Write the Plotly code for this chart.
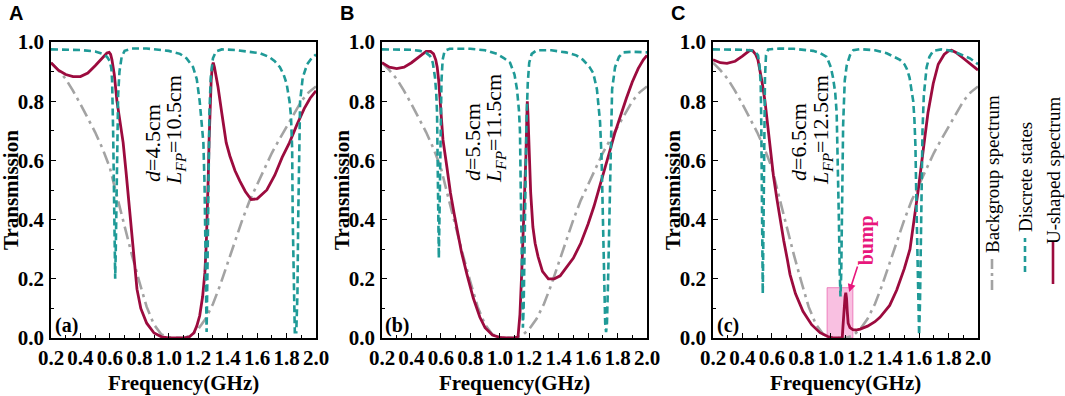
import plotly.graph_objects as go

# ---------------- data ----------------
freq_range = [0.2, 2.0]
trans_range = [0.0, 1.0]

# Background spectrum (same structure in all three panels)
bg_freq = [0.2, 0.25, 0.3, 0.35, 0.4, 0.45, 0.5, 0.55, 0.6, 0.65, 0.7, 0.75, 0.8, 0.85, 0.9, 0.95,
           1.0, 1.05, 1.1, 1.15, 1.2, 1.25, 1.3, 1.35, 1.4, 1.45, 1.5, 1.55, 1.6, 1.65, 1.7, 1.75,
           1.8, 1.85, 1.9, 1.95, 2.0]
bg_trans = [0.93, 0.905, 0.875, 0.835, 0.79, 0.745, 0.695, 0.64, 0.575, 0.475, 0.375, 0.28, 0.19,
            0.105, 0.045, 0.012, 0.002, 0.0, 0.0, 0.008, 0.03, 0.065, 0.115, 0.18, 0.255, 0.33,
            0.40, 0.465, 0.52, 0.575, 0.625, 0.67, 0.715, 0.76, 0.80, 0.83, 0.85]

# Panel A: discrete states
disc_a = [(0.2, 0.975), (0.3, 0.975), (0.4, 0.973), (0.5, 0.968), (0.55, 0.96), (0.58, 0.95),
          (0.6, 0.935), (0.61, 0.91), (0.615, 0.87), (0.622, 0.7), (0.627, 0.48), (0.632, 0.3),
          (0.636, 0.2), (0.64, 0.3), (0.645, 0.48), (0.65, 0.68), (0.656, 0.82), (0.665, 0.9),
          (0.68, 0.95), (0.7, 0.97), (0.75, 0.978), (0.85, 0.978), (0.95, 0.973), (1.0, 0.97),
          (1.076, 0.96), (1.12, 0.945), (1.165, 0.915), (1.19, 0.875), (1.21, 0.80), (1.225, 0.73),
          (1.235, 0.66), (1.243, 0.52), (1.248, 0.38), (1.252, 0.2), (1.257, 0.02), (1.262, 0.2),
          (1.266, 0.4), (1.27, 0.6), (1.276, 0.76), (1.285, 0.88), (1.3, 0.945), (1.32, 0.968),
          (1.36, 0.975), (1.45, 0.973), (1.55, 0.968), (1.62, 0.962), (1.68, 0.95), (1.72, 0.935),
          (1.755, 0.915), (1.78, 0.89), (1.8, 0.86), (1.82, 0.80), (1.83, 0.75), (1.838, 0.64),
          (1.842, 0.4), (1.848, 0.15), (1.856, 0.02), (1.866, 0.02), (1.874, 0.15), (1.879, 0.4),
          (1.884, 0.65), (1.892, 0.8), (1.91, 0.88), (1.94, 0.925), (1.97, 0.945), (2.0, 0.958)]

# Panel A: U-shaped spectrum
ushape_a = [(0.2, 0.93), (0.25, 0.905), (0.3, 0.89), (0.35, 0.883), (0.4, 0.883), (0.45, 0.895),
            (0.5, 0.92), (0.55, 0.948), (0.58, 0.963), (0.595, 0.965), (0.605, 0.958), (0.614, 0.94),
            (0.63, 0.89), (0.648, 0.80), (0.67, 0.73), (0.69, 0.66), (0.71, 0.56), (0.723, 0.49),
            (0.737, 0.40), (0.76, 0.27), (0.784, 0.165), (0.81, 0.10), (0.85, 0.05), (0.9, 0.017),
            (0.95, 0.004), (1.0, 0.0), (1.05, 0.0), (1.1, 0.0), (1.14, 0.004), (1.17, 0.017),
            (1.19, 0.04), (1.21, 0.075), (1.23, 0.14), (1.245, 0.22), (1.255, 0.32), (1.262, 0.42),
            (1.268, 0.54), (1.274, 0.67), (1.28, 0.78), (1.288, 0.87), (1.296, 0.92), (1.302, 0.93),
            (1.31, 0.915), (1.32, 0.89), (1.334, 0.85), (1.36, 0.76), (1.39, 0.66), (1.415, 0.615),
            (1.45, 0.565), (1.483, 0.53), (1.52, 0.495), (1.56, 0.468), (1.6, 0.47), (1.666, 0.50),
            (1.72, 0.55), (1.77, 0.61), (1.82, 0.66), (1.87, 0.72), (1.92, 0.775), (1.96, 0.81),
            (2.0, 0.835)]

# Panel B: discrete states
disc_b = [(0.2, 0.975), (0.3, 0.975), (0.4, 0.974), (0.458, 0.97), (0.5, 0.963), (0.526, 0.953),
          (0.545, 0.93), (0.56, 0.88), (0.568, 0.83), (0.574, 0.76), (0.578, 0.6), (0.582, 0.42),
          (0.586, 0.27), (0.59, 0.4), (0.594, 0.58), (0.598, 0.75), (0.604, 0.87), (0.612, 0.94),
          (0.625, 0.97), (0.66, 0.977), (0.8, 0.977), (0.9, 0.972), (0.98, 0.96), (1.03, 0.945),
          (1.07, 0.93), (1.1, 0.89), (1.117, 0.84), (1.13, 0.77), (1.137, 0.7), (1.142, 0.52),
          (1.147, 0.3), (1.152, 0.1), (1.157, 0.035), (1.162, 0.1), (1.168, 0.3), (1.174, 0.52),
          (1.181, 0.72), (1.19, 0.86), (1.2, 0.93), (1.217, 0.96), (1.25, 0.972), (1.35, 0.972),
          (1.45, 0.965), (1.52, 0.955), (1.565, 0.94), (1.61, 0.915), (1.635, 0.895), (1.66, 0.84),
          (1.681, 0.73), (1.692, 0.6), (1.7, 0.4), (1.708, 0.2), (1.716, 0.05), (1.722, 0.02),
          (1.728, 0.05), (1.736, 0.2), (1.744, 0.42), (1.75, 0.62), (1.756, 0.76), (1.763, 0.84),
          (1.783, 0.915), (1.81, 0.95), (1.84, 0.965), (1.9, 0.967), (2.0, 0.965)]

# Panel B: U-shaped spectrum
ushape_b = [(0.2, 0.93), (0.25, 0.915), (0.3, 0.91), (0.35, 0.915), (0.4, 0.93), (0.45, 0.95),
            (0.5, 0.968), (0.53, 0.968), (0.55, 0.96), (0.565, 0.94), (0.575, 0.915), (0.585, 0.87),
            (0.594, 0.80), (0.605, 0.72), (0.614, 0.67), (0.64, 0.58), (0.665, 0.49), (0.69, 0.42),
            (0.71, 0.37), (0.74, 0.29), (0.777, 0.215), (0.82, 0.135), (0.865, 0.07), (0.9, 0.035),
            (0.95, 0.01), (1.0, 0.002), (1.05, 0.0), (1.1, 0.0), (1.124, 0.005), (1.137, 0.08),
            (1.149, 0.22), (1.16, 0.36), (1.171, 0.5), (1.178, 0.62), (1.183, 0.73), (1.187, 0.80),
            (1.191, 0.76), (1.196, 0.67), (1.203, 0.56), (1.21, 0.49), (1.225, 0.375), (1.24, 0.32),
            (1.26, 0.275), (1.29, 0.225), (1.33, 0.2), (1.37, 0.2), (1.41, 0.21), (1.45, 0.235),
            (1.5, 0.27), (1.55, 0.32), (1.6, 0.385), (1.64, 0.445), (1.681, 0.52), (1.715, 0.58),
            (1.749, 0.635), (1.78, 0.69), (1.817, 0.748), (1.86, 0.81), (1.9, 0.865), (1.94, 0.91),
            (1.975, 0.94), (2.0, 0.955)]

# Panel C: discrete states
disc_c = [(0.2, 0.975), (0.3, 0.975), (0.4, 0.974), (0.45, 0.972), (0.472, 0.97), (0.49, 0.965),
          (0.506, 0.955), (0.516, 0.92), (0.524, 0.86), (0.528, 0.72), (0.532, 0.45), (0.535, 0.25),
          (0.538, 0.15), (0.541, 0.28), (0.544, 0.5), (0.548, 0.75), (0.553, 0.88), (0.56, 0.955),
          (0.575, 0.975), (0.65, 0.978), (0.75, 0.977), (0.88, 0.97), (0.93, 0.962), (0.972, 0.95),
          (1.0, 0.915), (1.015, 0.88), (1.03, 0.83), (1.04, 0.76), (1.048, 0.6), (1.055, 0.4),
          (1.061, 0.22), (1.066, 0.14), (1.071, 0.22), (1.077, 0.45), (1.084, 0.72), (1.095, 0.87),
          (1.108, 0.92), (1.13, 0.955), (1.153, 0.972), (1.2, 0.976), (1.3, 0.972), (1.38, 0.962),
          (1.43, 0.95), (1.47, 0.94), (1.5, 0.925), (1.516, 0.91), (1.535, 0.88), (1.55, 0.84),
          (1.56, 0.8), (1.568, 0.74), (1.575, 0.65), (1.582, 0.45), (1.588, 0.3), (1.594, 0.12),
          (1.6, 0.01), (1.606, 0.12), (1.611, 0.3), (1.617, 0.5), (1.623, 0.7), (1.632, 0.82),
          (1.651, 0.915), (1.67, 0.95), (1.696, 0.97), (1.75, 0.975), (1.8, 0.972), (1.85, 0.965),
          (1.9, 0.955), (1.945, 0.945), (2.0, 0.925)]

# Panel C: U-shaped spectrum
ushape_c = [(0.2, 0.94), (0.25, 0.93), (0.295, 0.928), (0.35, 0.935), (0.4, 0.952), (0.43, 0.965),
            (0.45, 0.972), (0.47, 0.97), (0.49, 0.958), (0.505, 0.94), (0.519, 0.905), (0.535, 0.86),
            (0.553, 0.80), (0.57, 0.72), (0.587, 0.635), (0.61, 0.55), (0.634, 0.47), (0.655, 0.40),
            (0.68, 0.33), (0.705, 0.265), (0.723, 0.215), (0.76, 0.15), (0.811, 0.09), (0.87, 0.045),
            (0.927, 0.018), (0.98, 0.005), (1.02, 0.0), (1.06, 0.0), (1.078, 0.002), (1.083, 0.04),
            (1.09, 0.1), (1.097, 0.14), (1.102, 0.153), (1.107, 0.135), (1.112, 0.09), (1.118, 0.05),
            (1.13, 0.035), (1.15, 0.028), (1.17, 0.027), (1.2, 0.03), (1.25, 0.04), (1.3, 0.055),
            (1.334, 0.07), (1.4, 0.11), (1.448, 0.162), (1.5, 0.235), (1.538, 0.30), (1.565, 0.39),
            (1.594, 0.50), (1.628, 0.635), (1.66, 0.76), (1.696, 0.86), (1.73, 0.925), (1.77, 0.958),
            (1.8, 0.97), (1.82, 0.972), (1.85, 0.965), (1.9, 0.945), (1.95, 0.925), (2.0, 0.905)]

panel_letters = ["A", "B", "C"]
panel_tags = ["(a)", "(b)", "(c)"]
d_labels = ["4.5", "5.5", "6.5"]
lfp_labels = ["10.5", "11.5", "12.5"]
legend_names = ["Backgroup spectrum", "Discrete states", "U-shaped spectrum"]
x_title = "Frequency(GHz)"
y_title = "Transmission"
bump_box = (0.975, 1.15, 0.17)   # x0, x1, top of highlighted region in panel C
bump_point = (1.125, 0.155)

# ---------------- styles ----------------
W, H = 1065, 396
SERIF = "Liberation Serif"
SANS = "Liberation Sans"
C_GRAY = "#a3a3a3"
C_TEAL = "#1f9a97"
C_RED = "#9c0b3e"
C_PINK = "#e8177c"


def px(x):
    return x / W


def py(y):
    return 1 - y / H


plot_left = [51, 382, 713]
plot_w = 265
plot_top, plot_bot = 42, 338

fig = go.Figure()

discs = [disc_a, disc_b, disc_c]
ushapes = [ushape_a, ushape_b, ushape_c]

for i in range(3):
    sfx = "" if i == 0 else str(i + 1)
    xa, ya = "x" + sfx, "y" + sfx
    fig.add_trace(go.Scatter(x=bg_freq, y=bg_trans, mode="lines", xaxis=xa, yaxis=ya,
                             line=dict(color=C_GRAY, width=2.6, dash="13px,5px,3px,5px"),
                             showlegend=False, hoverinfo="skip"))
    uf, ut = zip(*ushapes[i])
    fig.add_trace(go.Scatter(x=list(uf), y=list(ut), mode="lines", xaxis=xa, yaxis=ya,
                             line=dict(color=C_RED, width=2.8), showlegend=False, hoverinfo="skip"))
    dfq, dt = zip(*discs[i])
    fig.add_trace(go.Scatter(x=list(dfq), y=list(dt), mode="lines", xaxis=xa, yaxis=ya,
                             line=dict(color=C_TEAL, width=2.6, dash="7px,4px"),
                             showlegend=False, hoverinfo="skip"))

axis_common = dict(showline=True, linecolor="black", linewidth=1.6, mirror=True,
                   ticks="inside", ticklen=5, tickwidth=1.3, tickcolor="black",
                   showgrid=False, zeroline=False, automargin=False,
                   tickfont=dict(family=SERIF, size=21, color="black", weight="bold"))

layout = dict(width=W, height=H, autosize=False, margin=dict(l=0, r=0, t=0, b=0),
              paper_bgcolor="white", plot_bgcolor="white", showlegend=False)

for i in range(3):
    sfx = "" if i == 0 else str(i + 1)
    xl = plot_left[i]
    layout["xaxis" + sfx] = dict(axis_common, domain=[px(xl), px(xl + plot_w)], range=freq_range,
                                 anchor="y" + sfx, dtick=0.2, tick0=0.2, tickformat=".1f",
                                 ticklabelstandoff=0,
                                 minor=dict(dtick=0.1, ticks="inside", ticklen=3, tickcolor="black"))
    layout["yaxis" + sfx] = dict(axis_common, domain=[py(plot_bot), py(plot_top)], range=trans_range,
                                 anchor="x" + sfx, dtick=0.2, tickformat=".1f",
                                 ticklabelstandoff=1,
                                 minor=dict(dtick=0.1, ticks="inside", ticklen=3, tickcolor="black"))

fig.update_layout(**layout)

annotations = []
d_pos = [(152, 143), (472, 142), (798, 142)]
l_pos = [(175, 130), (495, 129), (822, 130)]
for i in range(3):
    xl = plot_left[i]
    annotations.append(dict(text="<b>%s</b>" % panel_letters[i], x=px(xl - 35), y=py(13),
                            xref="paper", yref="paper", showarrow=False, xanchor="center", yanchor="middle",
                            font=dict(family=SANS, size=20, color="black")))
    annotations.append(dict(text="<b>%s</b>" % panel_tags[i], x=px(xl + 15), y=py(325),
                            xref="paper", yref="paper", showarrow=False, xanchor="center", yanchor="middle",
                            font=dict(family=SERIF, size=20, color="black")))
    annotations.append(dict(text="<i>d</i>=%scm" % d_labels[i], x=px(d_pos[i][0]), y=py(d_pos[i][1]),
                            xref="paper", yref="paper", showarrow=False, textangle=-90,
                            xanchor="center", yanchor="middle",
                            font=dict(family=SERIF, size=22, color="black")))
    annotations.append(dict(text="<i>L</i><sub><i>FP</i></sub>=%scm" % lfp_labels[i],
                            x=px(l_pos[i][0]), y=py(l_pos[i][1]),
                            xref="paper", yref="paper", showarrow=False, textangle=-90,
                            xanchor="center", yanchor="middle",
                            font=dict(family=SERIF, size=22, color="black")))
    # axis titles
    annotations.append(dict(text="<b>%s</b>" % x_title, x=px(xl + plot_w / 2), y=py(383),
                            xref="paper", yref="paper", showarrow=False, xanchor="center", yanchor="middle",
                            font=dict(family=SERIF, size=21, color="black")))
    annotations.append(dict(text="<b>%s</b>" % y_title, x=px(xl - 40), y=py(190),
                            xref="paper", yref="paper", showarrow=False, textangle=-90,
                            xanchor="center", yanchor="middle",
                            font=dict(family=SERIF, size=21, color="black")))

# bump label with arrow (panel C)
annotations.append(dict(text="<b>bump</b>", x=bump_point[0], y=bump_point[1], xref="x3", yref="y3",
                        ax=17, ay=-52, axref="pixel", ayref="pixel", showarrow=True,
                        arrowhead=2, arrowsize=1, arrowwidth=1.6, arrowcolor=C_PINK,
                        textangle=-90, font=dict(family=SERIF, size=20, color=C_PINK)))

# manual rotated legend
leg_x = [992, 1025, 1053]
leg_text_y = [174, 177, 171]
for i in range(3):
    annotations.append(dict(text=legend_names[i], x=px(leg_x[i]), y=py(leg_text_y[i]),
                            xref="paper", yref="paper", showarrow=False, textangle=-90,
                            xanchor="center", yanchor="middle",
                            font=dict(family=SERIF, size=19, color="black")))

fig.update_layout(annotations=annotations)

shapes = [
    dict(type="rect", xref="x3", yref="y3", x0=bump_box[0], x1=bump_box[1], y0=0, y1=bump_box[2],
         fillcolor="rgba(244,140,200,0.55)", line=dict(color="rgba(232,90,170,0.7)", width=1),
         layer="below"),
    dict(type="line", xref="paper", yref="paper", x0=px(992), x1=px(992), y0=py(290), y1=py(258),
         line=dict(color=C_GRAY, width=2.6, dash="10px,4px,3px,4px")),
    dict(type="line", xref="paper", yref="paper", x0=px(1025), x1=px(1025), y0=py(272), y1=py(238),
         line=dict(color=C_TEAL, width=2.6, dash="6px,4px")),
    dict(type="line", xref="paper", yref="paper", x0=px(1053), x1=px(1053), y0=py(284), y1=py(242),
         line=dict(color=C_RED, width=2.6)),
]
fig.update_layout(shapes=shapes)

fig.write_html("out.html", config={"displayModeBar": False},
               post_script="document.body.style.margin='0px';document.body.style.padding='0px';"
                           "document.body.style.overflow='hidden';")
